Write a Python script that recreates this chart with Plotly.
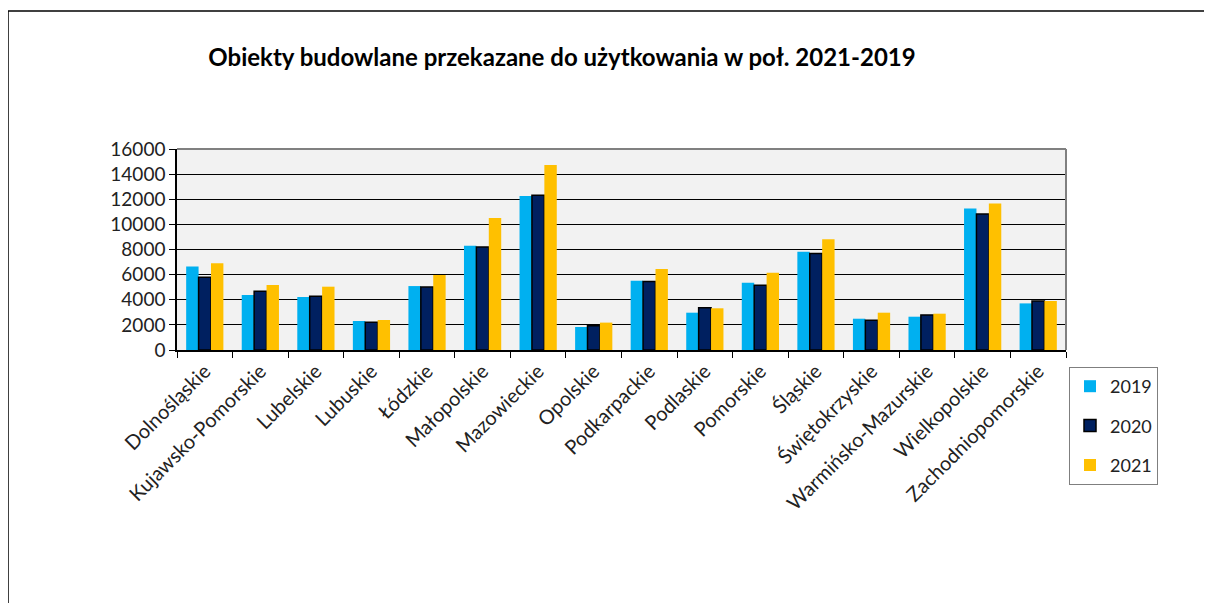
import plotly.graph_objects as go

categories = ["Dolnośląskie", "Kujawsko-Pomorskie", "Lubelskie", "Lubuskie", "Łódzkie",
              "Małopolskie", "Mazowieckie", "Opolskie", "Podkarpackie", "Podlaskie",
              "Pomorskie", "Śląskie", "Świętokrzyskie", "Warmińsko-Mazurskie",
              "Wielkopolskie", "Zachodniopomorskie"]
v2019 = [6650, 4380, 4220, 2310, 5090, 8300, 12250, 1830, 5520, 2970, 5360, 7820, 2490, 2650, 11270, 3710]
v2020 = [5800, 4670, 4270, 2200, 5010, 8200, 12310, 1940, 5460, 3370, 5150, 7690, 2360, 2790, 10820, 3900]
v2021 = [6900, 5170, 5040, 2390, 5970, 10500, 14720, 2180, 6450, 3320, 6150, 8810, 2970, 2890, 11670, 3900]
series_names = ["2019", "2020", "2021"]
y_ticks = [0, 2000, 4000, 6000, 8000, 10000, 12000, 14000, 16000]

FONT = "Lato, 'Liberation Sans', sans-serif"

fig = go.Figure()
fig.add_trace(go.Bar(name=series_names[0], x=categories, y=v2019, legendgroup="a",
                     marker=dict(color="#00B0F0", line=dict(width=0))))
fig.add_trace(go.Bar(name=series_names[1], x=categories, y=v2020, legendgroup="b",
                     marker=dict(color="#002060", line=dict(color="#000000", width=1.5))))
fig.add_trace(go.Bar(name=series_names[2], x=categories, y=v2021, legendgroup="c",
                     marker=dict(color="#FFC000", line=dict(width=0))))

# page body has an 8px margin: work in shifted coordinates
OFF = 8
W, H = 1212 - OFF, 603 - OFF
L, R, T, B = 177 - OFF, 1066 - OFF, 149 - OFF, 350 - OFF

fig.update_layout(
    width=W, height=H,
    margin=dict(l=L, r=W - R, t=T, b=H - B, autoexpand=False),
    paper_bgcolor="white", plot_bgcolor="#F2F2F2",
    font=dict(family=FONT, size=19, color="#222222"),
    barmode="group", bargap=0.33, bargroupgap=0,
    title=dict(text="<b>Obiekty budowlane przekazane do użytkowania w poł. 2021-2019</b>",
               xref="container", yref="container", x=(562 - OFF) / W, xanchor="center",
               y=1 - (58 - OFF) / H, yanchor="middle",
               font=dict(family=FONT, size=24, color="#000000")),
    legend=dict(x=(1069 - OFF - L) / (R - L), xanchor="left",
                y=(B - (367 - OFF)) / (B - T), yanchor="top",
                bgcolor="white", bordercolor="#7F7F7F", borderwidth=1,
                tracegroupgap=13, font=dict(size=18, color="#222222"),
                itemwidth=30),
    showlegend=True,
)
fig.update_xaxes(showline=True, linecolor="#000000", linewidth=1.5, mirror=False,
                 ticks="outside", tickson="boundaries", ticklen=6, tickcolor="#000000",
                 tickangle=-45, showgrid=False, tickfont=dict(size=20, color="#222222"))
fig.update_yaxes(range=[0, 16000], tickvals=y_ticks, tickformat="d", ticks="outside", ticklen=6,
                 tickcolor="#000000", showline=True, linecolor="#000000", linewidth=1.5,
                 showgrid=True, gridcolor="#000000", gridwidth=1, zeroline=False,
                 tickfont=dict(size=19, color="#222222"))

# gray right/top border of plot area
fig.add_shape(type="line", xref="paper", yref="paper", x0=0, x1=1, y0=1, y1=1,
              line=dict(color="#808080", width=2))
fig.add_shape(type="line", xref="paper", yref="paper", x0=1, x1=1, y0=0, y1=1,
              line=dict(color="#808080", width=2))

# outer frame (top and left)
px = lambda x: (x - OFF - L) / (R - L)
py = lambda y: (B - (y - OFF)) / (B - T)
fig.add_shape(type="line", xref="paper", yref="paper", x0=px(8), x1=px(1212), y0=py(11), y1=py(11),
              line=dict(color="#000000", width=1.5))
fig.add_shape(type="line", xref="paper", yref="paper", x0=px(8), x1=px(8), y0=py(11), y1=py(603),
              line=dict(color="#000000", width=1.5))

fig.write_html("out.html")
